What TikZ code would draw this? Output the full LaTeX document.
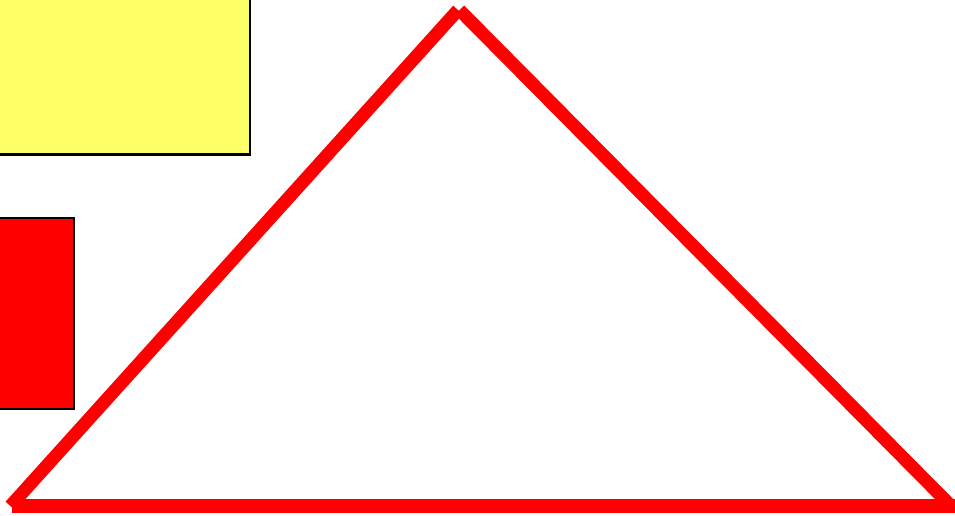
\documentclass[tikz,border=0pt]{standalone}
\definecolor{paleyellow}{HTML}{FFFF66}
\definecolor{pure red}{HTML}{FF0000}
\tikzset{
  box/.style={draw=black, line width=2.5pt},
  arm/.style={draw=pure red, line width=13pt, line cap=butt}
}
\begin{document}
\begin{tikzpicture}[x=1pt,y=-1pt]
\useasboundingbox (0,0) rectangle (955,515);
\clip (0,0) rectangle (955,515);
\node[box, fill=paleyellow, minimum width=260pt, minimum height=165pt, anchor=south east, inner sep=0pt] (yellowbox) at (251.2,155.6) {};
\node[box, fill=pure red, minimum width=84.5pt, minimum height=191pt, anchor=south east, inner sep=0pt] (redbox) at (75,410.3) {};
\coordinate (apexL) at (458,10);
\coordinate (apexR) at (459.5,10);
\coordinate (baseL) at (10.4,506);
\coordinate (baseR) at (952,507);
\coordinate (bottomL) at (12,506);
\coordinate (bottomR) at (965,506);
\draw[arm] (baseL) -- (apexL);
\draw[arm] (apexR) -- (baseR);
\draw[arm, line width=14pt] (bottomL) -- (bottomR);
\end{tikzpicture}
\end{document}
